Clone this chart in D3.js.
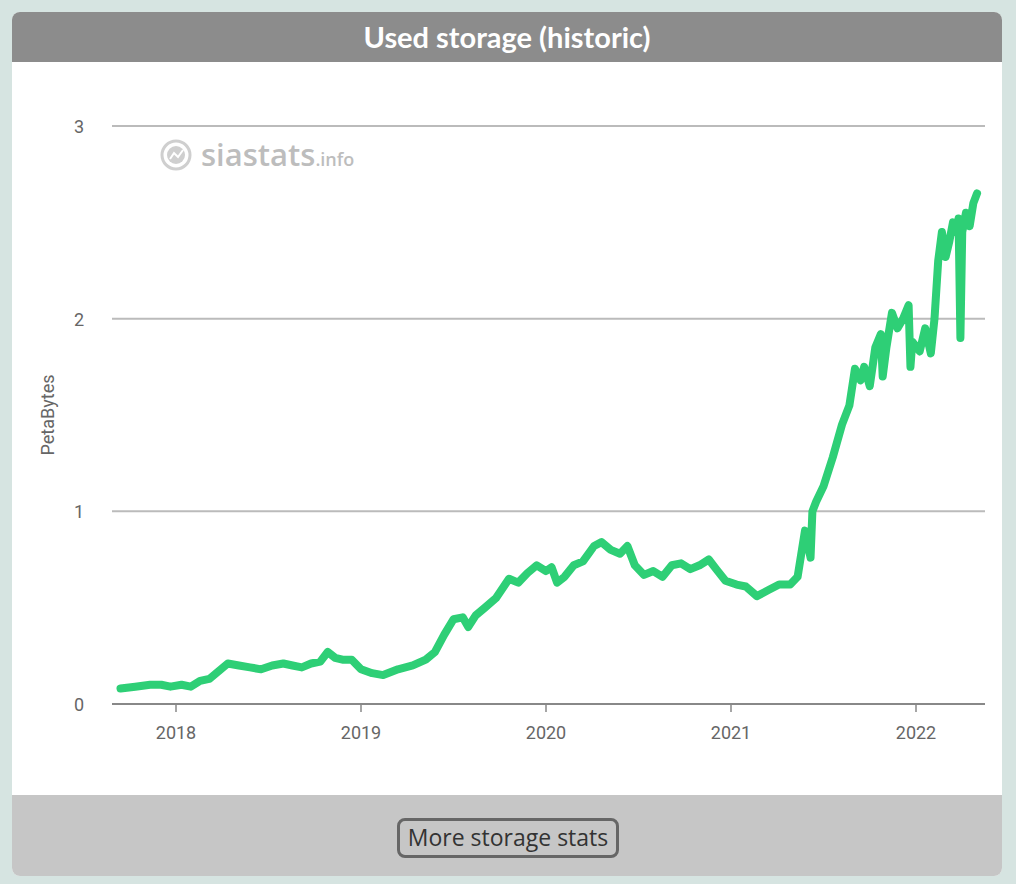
<!DOCTYPE html>
<html>
<head>
<meta charset="utf-8">
<script src="https://cdn.jsdelivr.net/npm/d3@7"></script>
<style>
  body { margin: 0; background: #d6e4e1; font-family: Roboto, "Noto Sans", sans-serif; }
  #card { position: absolute; left: 12px; top: 12px; width: 990px; height: 864px; background: #fff; border-radius: 8px; overflow: hidden; }
  #head { height: 50px; background: #8c8c8c; color: #fff; font: bold 29px Lato, "Open Sans", sans-serif; text-align: center; line-height: 50px; }
  #foot { position: absolute; left: 0; top: 783px; width: 990px; height: 81px; background: #c6c6c6; }
  #btn { position: absolute; left: 385px; top: 23px; width: 222px; height: 40px; border: 3px solid #666; border-radius: 8px; box-sizing: border-box; font: 23px "Open Sans", sans-serif; color: #333; text-align: center; line-height: 33px; }
  svg { position: absolute; left: 0; top: 0; }
</style>
</head>
<body>
<div id="card">
  <div id="head">Used storage (historic)</div>
  <div id="foot"><div id="btn">More storage stats</div></div>
</div>
<svg id="chart" width="1016" height="884"></svg>
<script>
const years = [2017.70,2017.78,2017.86,2017.92,2017.97,2018.03,2018.08,2018.13,2018.18,2018.23,2018.28,2018.34,2018.40,2018.46,2018.52,2018.58,2018.63,2018.68,2018.73,2018.78,2018.82,2018.86,2018.90,2018.95,2019.00,2019.06,2019.12,2019.20,2019.28,2019.35,2019.40,2019.45,2019.50,2019.55,2019.58,2019.62,2019.67,2019.73,2019.80,2019.85,2019.90,2019.95,2020.00,2020.03,2020.06,2020.10,2020.15,2020.20,2020.26,2020.30,2020.35,2020.40,2020.44,2020.48,2020.53,2020.58,2020.63,2020.68,2020.73,2020.78,2020.83,2020.88,2020.92,2020.97,2021.03,2021.08,2021.14,2021.20,2021.26,2021.32,2021.36,2021.40,2021.43,2021.44,2021.46,2021.50,2021.55,2021.60,2021.64,2021.67,2021.70,2021.72,2021.75,2021.78,2021.81,2021.82,2021.84,2021.87,2021.90,2021.93,2021.96,2021.97,2021.98,2022.02,2022.05,2022.08,2022.10,2022.12,2022.14,2022.16,2022.18,2022.20,2022.22,2022.23,2022.24,2022.25,2022.27,2022.29,2022.31,2022.33];
const petabytes = [0.08,0.09,0.10,0.10,0.09,0.10,0.09,0.12,0.13,0.17,0.21,0.20,0.19,0.18,0.20,0.21,0.20,0.19,0.21,0.22,0.27,0.24,0.23,0.23,0.18,0.16,0.15,0.18,0.20,0.23,0.27,0.36,0.44,0.45,0.40,0.46,0.50,0.55,0.65,0.63,0.68,0.72,0.69,0.71,0.63,0.66,0.72,0.74,0.82,0.84,0.80,0.78,0.82,0.72,0.67,0.69,0.66,0.72,0.73,0.70,0.72,0.75,0.70,0.64,0.62,0.61,0.56,0.59,0.62,0.62,0.66,0.90,0.76,1.00,1.05,1.13,1.28,1.45,1.55,1.74,1.68,1.75,1.65,1.85,1.92,1.70,1.85,2.03,1.95,2.00,2.07,1.75,1.88,1.83,1.95,1.82,2.00,2.30,2.45,2.32,2.40,2.50,2.45,2.52,1.90,2.45,2.55,2.48,2.60,2.65];
const yTicks = [0, 1, 2, 3];
const xTicks = [2018, 2019, 2020, 2021, 2022];

const svg = d3.select('#chart');
const x = d3.scaleLinear().domain([2018, 2022]).range([176, 916]);
const y = d3.scaleLinear().domain([0, 3]).range([704, 126]);

svg.selectAll('.grid').data(yTicks).enter().append('line')
  .attr('x1', 112).attr('x2', 985)
  .attr('y1', d => y(d)).attr('y2', d => y(d))
  .attr('stroke', d => d === 0 ? '#888' : '#bbb').attr('stroke-width', 2);

svg.selectAll('.ylab').data(yTicks).enter().append('text')
  .attr('x', 84).attr('y', d => y(d) + 7)
  .attr('text-anchor', 'end').attr('fill', '#666').style('font-size', '18px')
  .text(d => d);

svg.selectAll('.xtick').data(xTicks).enter().append('line')
  .attr('x1', d => x(d)).attr('x2', d => x(d))
  .attr('y1', 704).attr('y2', 712).attr('stroke', '#888').attr('stroke-width', 1.5);

svg.selectAll('.xlab').data(xTicks).enter().append('text')
  .attr('x', d => x(d)).attr('y', 739)
  .attr('text-anchor', 'middle').attr('fill', '#666').style('font-size', '18px')
  .text(d => d);

svg.append('text')
  .attr('transform', 'translate(54,415) rotate(-90)')
  .attr('text-anchor', 'middle').attr('fill', '#666').style('font-size', '18px')
  .text('PetaBytes');

// watermark
svg.append('circle').attr('cx', 176).attr('cy', 155).attr('r', 14)
  .attr('fill', 'none').attr('stroke', '#cfcfcf').attr('stroke-width', 3);
svg.append('circle').attr('cx', 176).attr('cy', 155).attr('r', 9).attr('fill', '#cfcfcf');
svg.append('path').attr('d', 'M170,159 L174,153 L178,157 L183,150')
  .attr('fill', 'none').attr('stroke', '#fff').attr('stroke-width', 2);
const t = svg.append('text').attr('x', 201).attr('y', 166).attr('fill', '#bdbdbd')
  .style('font-family', '"Open Sans", sans-serif').style('font-weight', '600');
t.append('tspan').style('font-size', '31px').text('siastats');
t.append('tspan').style('font-size', '18px').text('.info');

const line = d3.line().x((d, i) => x(years[i])).y(d => y(d));
svg.append('path').datum(petabytes)
  .attr('d', line).attr('fill', 'none').attr('stroke', '#2ecf76')
  .attr('stroke-width', 8).attr('stroke-linejoin', 'round').attr('stroke-linecap', 'round');
</script>
</body>
</html>
